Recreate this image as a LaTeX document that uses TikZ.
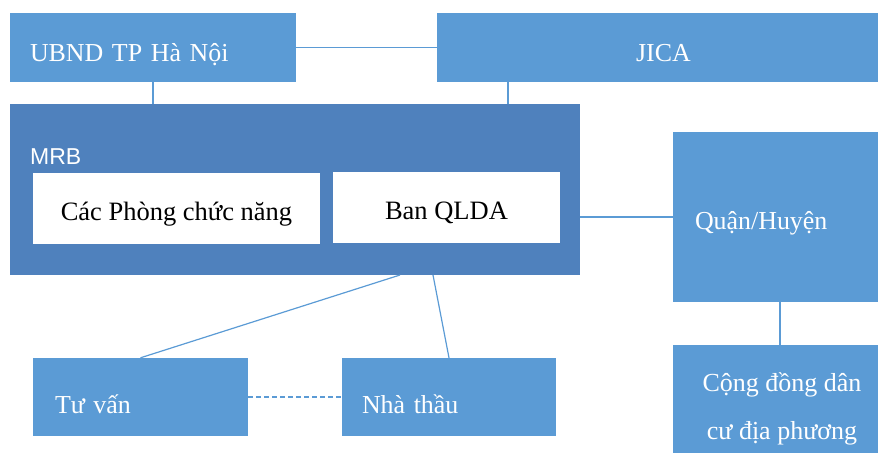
\documentclass[tikz,border=0pt]{standalone}
\usepackage{fontspec}
\setmainfont{Liberation Serif}
\newfontfamily\arialfont{Liberation Sans}
\definecolor{boxblue}{HTML}{5B9BD5}
\definecolor{mrbblue}{HTML}{4F81BD}
\begin{document}
\begin{tikzpicture}[x=1pt,y=-1pt,
  box/.style={rectangle, fill=boxblue, draw=none, inner sep=0pt, text=white,
              font=\fontsize{25.9}{30}\selectfont, text depth=0pt},
  unit/.style={rectangle, fill=white, draw=none, inner sep=0pt, text=black,
               font=\fontsize{26.5}{30}\selectfont, text height=23pt, text depth=0pt},
  link/.style={draw=boxblue, line width=1.2pt},
  loose/.style={link, dash pattern=on 5pt off 3pt}]
\useasboundingbox (0,0) rectangle (878,453);

% top level
\node[box, minimum width=286pt, minimum height=69pt, text width=246pt, align=left,
      text height=27pt] (ubnd) at (153,47.5) {UBND TP Hà Nội};
\node[box, minimum width=441pt, minimum height=69pt, text height=27pt]
  (jica) at (657.5,47.5) {\hspace*{12pt}JICA};

% MRB with its two units
\node[rectangle, fill=mrbblue, draw=none, inner sep=0pt,
      minimum width=570pt, minimum height=171pt] (mrb) at (295,189.5) {};
\node[anchor=base west, inner sep=0pt, text=white,
      font=\arialfont\fontsize{23}{26}\selectfont] (mrbtitle) at (30,164) {MRB};
\node[unit, minimum width=287pt, minimum height=71pt] (phong) at (176.5,208.5) {Các Phòng chức năng};
\node[unit, minimum width=227pt, minimum height=71pt] (ban) at (446.5,207.5) {Ban QLDA};

% district and community
\node[box, minimum width=205pt, minimum height=170pt, text width=161pt, align=left,
      text height=24pt] (qh) at (775.5,217) {Quận/Huyện};
\node[box, minimum width=205pt, minimum height=108pt] (cd) at (775.5,399) {};
\node[inner sep=0pt, text=white, align=center,
      font=\fontsize{26}{48}\selectfont] (cdtext) at (782,409) {Cộng đồng dân\\cư địa phương};

% consultant and contractor
\node[box, minimum width=215pt, minimum height=78pt, text width=171pt, align=left,
      text height=32pt] (tv) at (140.5,397) {Tư vấn};
\node[box, minimum width=214pt, minimum height=78pt, text width=174pt, align=left,
      text height=32pt] (nt) at (449,397) {Nhà thầu};

% connectors
\coordinate (jicadrop) at (508,82);
\coordinate (qhdrop) at (780,302);
\coordinate (mrbtv) at (400,275);
\coordinate (mrbnt) at (433,275);

\draw[link] (ubnd.east) -- (jica.west);
\draw[link] (ubnd.south) -- (ubnd.south |- mrb.north);
\draw[link] (jicadrop) -- (jicadrop |- mrb.north);
\draw[link] (mrb.east |- qh.west) -- (qh.west);
\draw[link] (qhdrop) -- (qhdrop |- cd.north);
\draw[link] (mrbtv) -- (tv.north);
\draw[link] (mrbnt) -- (nt.north);
\draw[loose] (tv.east) -- (nt.west);
\end{tikzpicture}
\end{document}
